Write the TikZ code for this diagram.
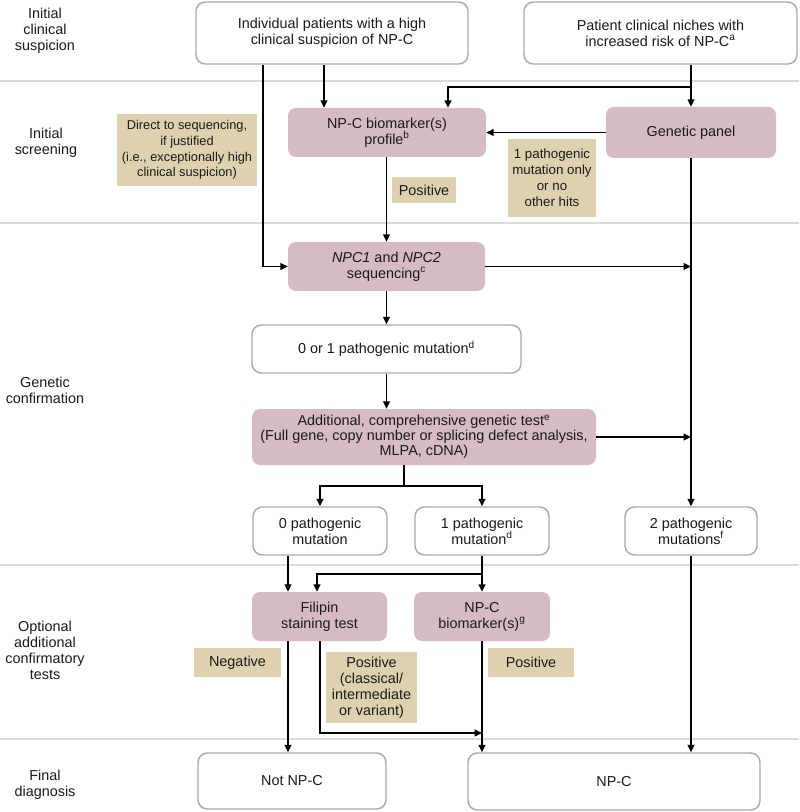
\documentclass[tikz,border=0pt]{standalone}
\usepackage{fontspec}
\setmainfont{Liberation Sans}
\usetikzlibrary{arrows.meta,calc}
\definecolor{pinkbox}{HTML}{D6BBC6}
\definecolor{tanbox}{HTML}{DDD1AF}
\definecolor{boxline}{HTML}{ABABAB}
\definecolor{sepline}{HTML}{DADADA}
\definecolor{txt}{HTML}{1A1A1A}
\newcommand\bx[7]{\node[#2, minimum width={(#5-#3)*0.75pt}, minimum height={(#6-#4)*0.75pt}] (#1) at ({(#3+#5)/2},{(#4+#6)/2}) {#7};}
\tikzset{
  base/.style={align=center, inner sep=1pt, font=\fontsize{10.8}{12}\selectfont, text=txt},
  wbox/.style={base, draw=boxline, line width=1.1pt, rounded corners=7pt, fill=white},
  pbox/.style={base, fill=pinkbox, rounded corners=6pt},
  tbox/.style={base, fill=tanbox},
  lab/.style={base},
  arr/.style={line width=1.1pt, -{Triangle[length=5.5pt,width=5pt]}},
  ln/.style={line width=1.1pt},
  sep/.style={draw=sepline, line width=2.2pt}
}
\begin{document}
\begin{tikzpicture}[x=0.75pt,y=-0.75pt]
\fill[white] (0,0) rectangle (799,812);
\useasboundingbox (0,0) rectangle (799,812);
% separators
\draw[sep] (0,81) -- (799,81);
\draw[sep] (0,223) -- (799,223);
\draw[sep] (0,565) -- (799,565);
\draw[sep] (0,739) -- (799,739);
% row labels
\node[lab] (l1) at (45,31) {Initial\\clinical\\suspicion};
\node[lab] (l2) at (46,143) {Initial\\screening};
\node[lab] (l3) at (45,390) {Genetic\\confirmation};
\node[lab] (l4) at (45,650) {Optional\\additional\\confirmatory\\tests};
\node[lab] (l5) at (45,785) {Final\\diagnosis};
% boxes
\bx{top1}{wbox}{196}{2}{468}{64}{Individual patients with a high\\clinical suspicion of NP-C}
\bx{top2}{wbox}{524}{2}{797}{64}{Patient clinical niches with\\increased risk of NP-C\textsuperscript{a}}
\bx{bio}{pbox}{288}{108}{486}{157}{NP-C biomarker(s)\\profile\textsuperscript{b}}
\bx{gp}{pbox}{606}{107}{776}{158}{Genetic panel}
\bx{npc}{pbox}{288}{242}{485}{291}{\textit{NPC1} and \textit{NPC2}\\sequencing\textsuperscript{c}}
\bx{m01}{wbox}{252}{325}{521}{373}{0 or 1 pathogenic mutation\textsuperscript{d}}
\bx{add}{pbox,font=\fontsize{10.8}{11.2}\selectfont}{252}{409}{596}{465}{Additional, comprehensive genetic test\textsuperscript{e}\\(Full gene, copy number or splicing defect analysis,\\MLPA, cDNA)}
\bx{p0}{wbox}{253}{507}{387}{555}{0 pathogenic\\mutation}
\bx{p1}{wbox}{415}{507}{549}{555}{1 pathogenic\\mutation\textsuperscript{d}}
\bx{p2}{wbox}{625}{507}{757}{555}{2 pathogenic\\mutations\textsuperscript{f}}
\bx{fil}{pbox}{252}{592}{387}{641}{Filipin\\staining test}
\bx{bio2}{pbox}{414}{592}{550}{641}{NP-C\\biomarker(s)\textsuperscript{g}}
\bx{notc}{wbox}{198}{753}{386}{809}{Not NP-C}
\bx{npcf}{wbox}{468}{753}{760}{810}{NP-C}
% tan labels
\bx{t1}{tbox,font=\fontsize{9.6}{11.7}\selectfont}{117}{114}{257}{186}{Direct to sequencing,\\if justified\\(i.e., exceptionally high\\clinical suspicion)}
\bx{t2}{tbox}{392}{177}{456}{203}{Positive}
\bx{t3}{tbox,font=\fontsize{10}{12}\selectfont}{508}{139}{596}{217}{1 pathogenic\\mutation only\\or no\\other hits}
\bx{t4}{tbox}{194}{648}{281}{677}{Negative}
\bx{t5}{tbox}{326}{652}{417}{723}{Positive\\(classical/\\intermediate\\or variant)}
\bx{t6}{tbox}{488}{648}{574}{677}{Positive}
% junctions
\coordinate (j1) at (691,87);
\coordinate (j2) at (404,486);
\coordinate (j3) at (482,574);
\coordinate (j4) at (482,733);
% connectors
\draw[arr] (top1.south -| 324,0) -- (bio.north -| 324,0);
\draw[arr] (top1.south -| 263,0) |- (npc.west);
\draw[arr] (top2.south -| gp.north) -- (gp.north);
\draw[arr] (j1) -| (bio.north -| 448,0);
\draw[arr] (gp.west) -- (bio.east);
\draw[arr] (bio.south -| npc.north) -- (npc.north);
\draw[arr] (gp.south) -- (p2.north);
\draw[arr] (npc.east) -- (npc.east -| gp.south);
\draw[arr] (npc.south) -- (m01.north -| npc.south);
\draw[arr] (m01.south) -- (add.north -| m01.south);
\draw[arr] (add.east) -- (add.east -| gp.south);
\draw[ln] (add.south -| j2) -- (j2);
\draw[arr] (j2) -| (p0.north);
\draw[arr] (j2) -| (p1.north);
\draw[arr] (p0.south -| 288,0) -- (fil.north -| 288,0);
\draw[arr] (p1.south) -- (bio2.north -| p1.south);
\draw[arr] (j3) -| (fil.north -| 317,0);
\draw[arr] (fil.south -| 288,0) -- (notc.north -| 288,0);
\draw[arr] (fil.south -| 320,0) |- (j4);
\draw[arr] (bio2.south -| j3) -- (npcf.north -| j3);
\draw[arr] (p2.south) -- (npcf.north -| p2.south);
\end{tikzpicture}
\end{document}
